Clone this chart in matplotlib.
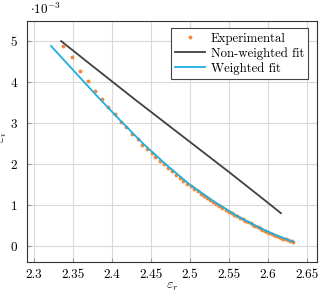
import numpy as np
import matplotlib
matplotlib.use('Agg')
import matplotlib.pyplot as pp

#Values are in units of 1e-3 (shown by the axis multiplier)
expX = [2.337, 2.349, 2.359, 2.370, 2.379, 2.388, 2.395, 2.404, 2.412, 2.418,
        2.426, 2.433, 2.439, 2.445, 2.451, 2.456, 2.462, 2.467, 2.472, 2.477,
        2.482, 2.487, 2.492, 2.497, 2.501, 2.506, 2.510, 2.514, 2.518, 2.522,
        2.526, 2.530, 2.534, 2.538, 2.542, 2.546, 2.550, 2.554, 2.557, 2.561,
        2.564, 2.568, 2.571, 2.575, 2.578, 2.581, 2.584, 2.587, 2.590, 2.593,
        2.596, 2.599, 2.602, 2.605, 2.608, 2.611, 2.614, 2.617, 2.620, 2.623,
        2.626, 2.629, 2.631, 2.633]
expY = [4.88, 4.61, 4.27, 4.02, 3.78, 3.59, 3.39, 3.22, 3.02, 2.90,
        2.73, 2.61, 2.46, 2.36, 2.26, 2.16, 2.07, 1.99, 1.90, 1.82,
        1.74, 1.67, 1.59, 1.52, 1.46, 1.39, 1.33, 1.27, 1.22, 1.17,
        1.12, 1.07, 1.02, 0.97, 0.93, 0.88, 0.84, 0.80, 0.76, 0.72,
        0.69, 0.65, 0.62, 0.58, 0.55, 0.52, 0.49, 0.46, 0.43, 0.40,
        0.37, 0.35, 0.32, 0.30, 0.27, 0.25, 0.22, 0.20, 0.18, 0.16,
        0.14, 0.12, 0.11, 0.10]

nwX = [2.335, 2.37, 2.40, 2.43, 2.46, 2.49, 2.52, 2.55, 2.58, 2.60, 2.617]
nwY = [5.00, 4.47, 4.02, 3.57, 3.13, 2.69, 2.25, 1.81, 1.36, 1.06, 0.80]

wX = [2.322, 2.35, 2.38, 2.41, 2.44, 2.47, 2.50, 2.53, 2.56, 2.59, 2.61, 2.633]
wY = [4.88, 4.30, 3.68, 3.08, 2.50, 1.98, 1.50, 1.10, 0.74, 0.44, 0.27, 0.10]

xTicks = [2.3, 2.35, 2.4, 2.45, 2.5, 2.55, 2.6, 2.65]
xTickLabels = ['2.3', '2.35', '2.4', '2.45', '2.5', '2.55', '2.6', '2.65']
yTicks = [0, 1, 2, 3, 4, 5]

pp.rcParams['font.family'] = 'cmr10'
pp.rcParams['mathtext.fontset'] = 'cm'
pp.rcParams['axes.unicode_minus'] = False

fig = pp.figure(figsize=(3.2, 2.92), dpi=100)
ax = fig.add_axes([0.084, 0.103, 0.907, 0.825])

ax.grid(True, color='#d9d9d9', linewidth=0.8)
ax.set_axisbelow(True)

ax.plot(expX, expY, linestyle='none', marker='o', markersize=2.8,
        markeredgewidth=0, color='#f0883e', label='Experimental', zorder=3)
ax.plot(nwX, nwY, color='#404040', linewidth=1.3, label='Non-weighted fit', zorder=2)
ax.plot(wX, wY, color='#1eaee0', linewidth=1.3, label='Weighted fit', zorder=4)

ax.set_xlim(2.291, 2.6635)
ax.set_ylim(-0.39, 5.49)
ax.set_xticks(xTicks)
ax.set_xticklabels(xTickLabels)
ax.set_yticks(yTicks)
ax.tick_params(axis='both', direction='in', length=3, color='#999999', labelsize=9.5)
ax.tick_params(axis='x', pad=5)
ax.tick_params(axis='y', pad=7)
for s in ax.spines.values():
    s.set_color('#333333')
    s.set_linewidth(0.8)

#Axis labels placed by hand to match the original layout
fig.text(0.5375, 1 - 287 / 292, r'$\varepsilon_r$', fontsize=10, ha='center', va='center')
fig.text(-0.012, 0.53, r'$\varepsilon_i$', rotation=90, fontsize=10, ha='left', va='center')
fig.text(0.095, 0.968, r'$\cdot 10^{-3}$', fontsize=9.5, ha='left', va='center')

leg = ax.legend(loc='upper right', bbox_to_anchor=(0.97, 0.971), fontsize=9.2,
                fancybox=False, framealpha=1, edgecolor='#444444',
                handlelength=2.3, borderpad=0.35, labelspacing=0.2, handletextpad=0.45,
                borderaxespad=0)
leg.get_frame().set_linewidth(0.8)

fig.savefig('out.png', dpi=100)
pp.close()
